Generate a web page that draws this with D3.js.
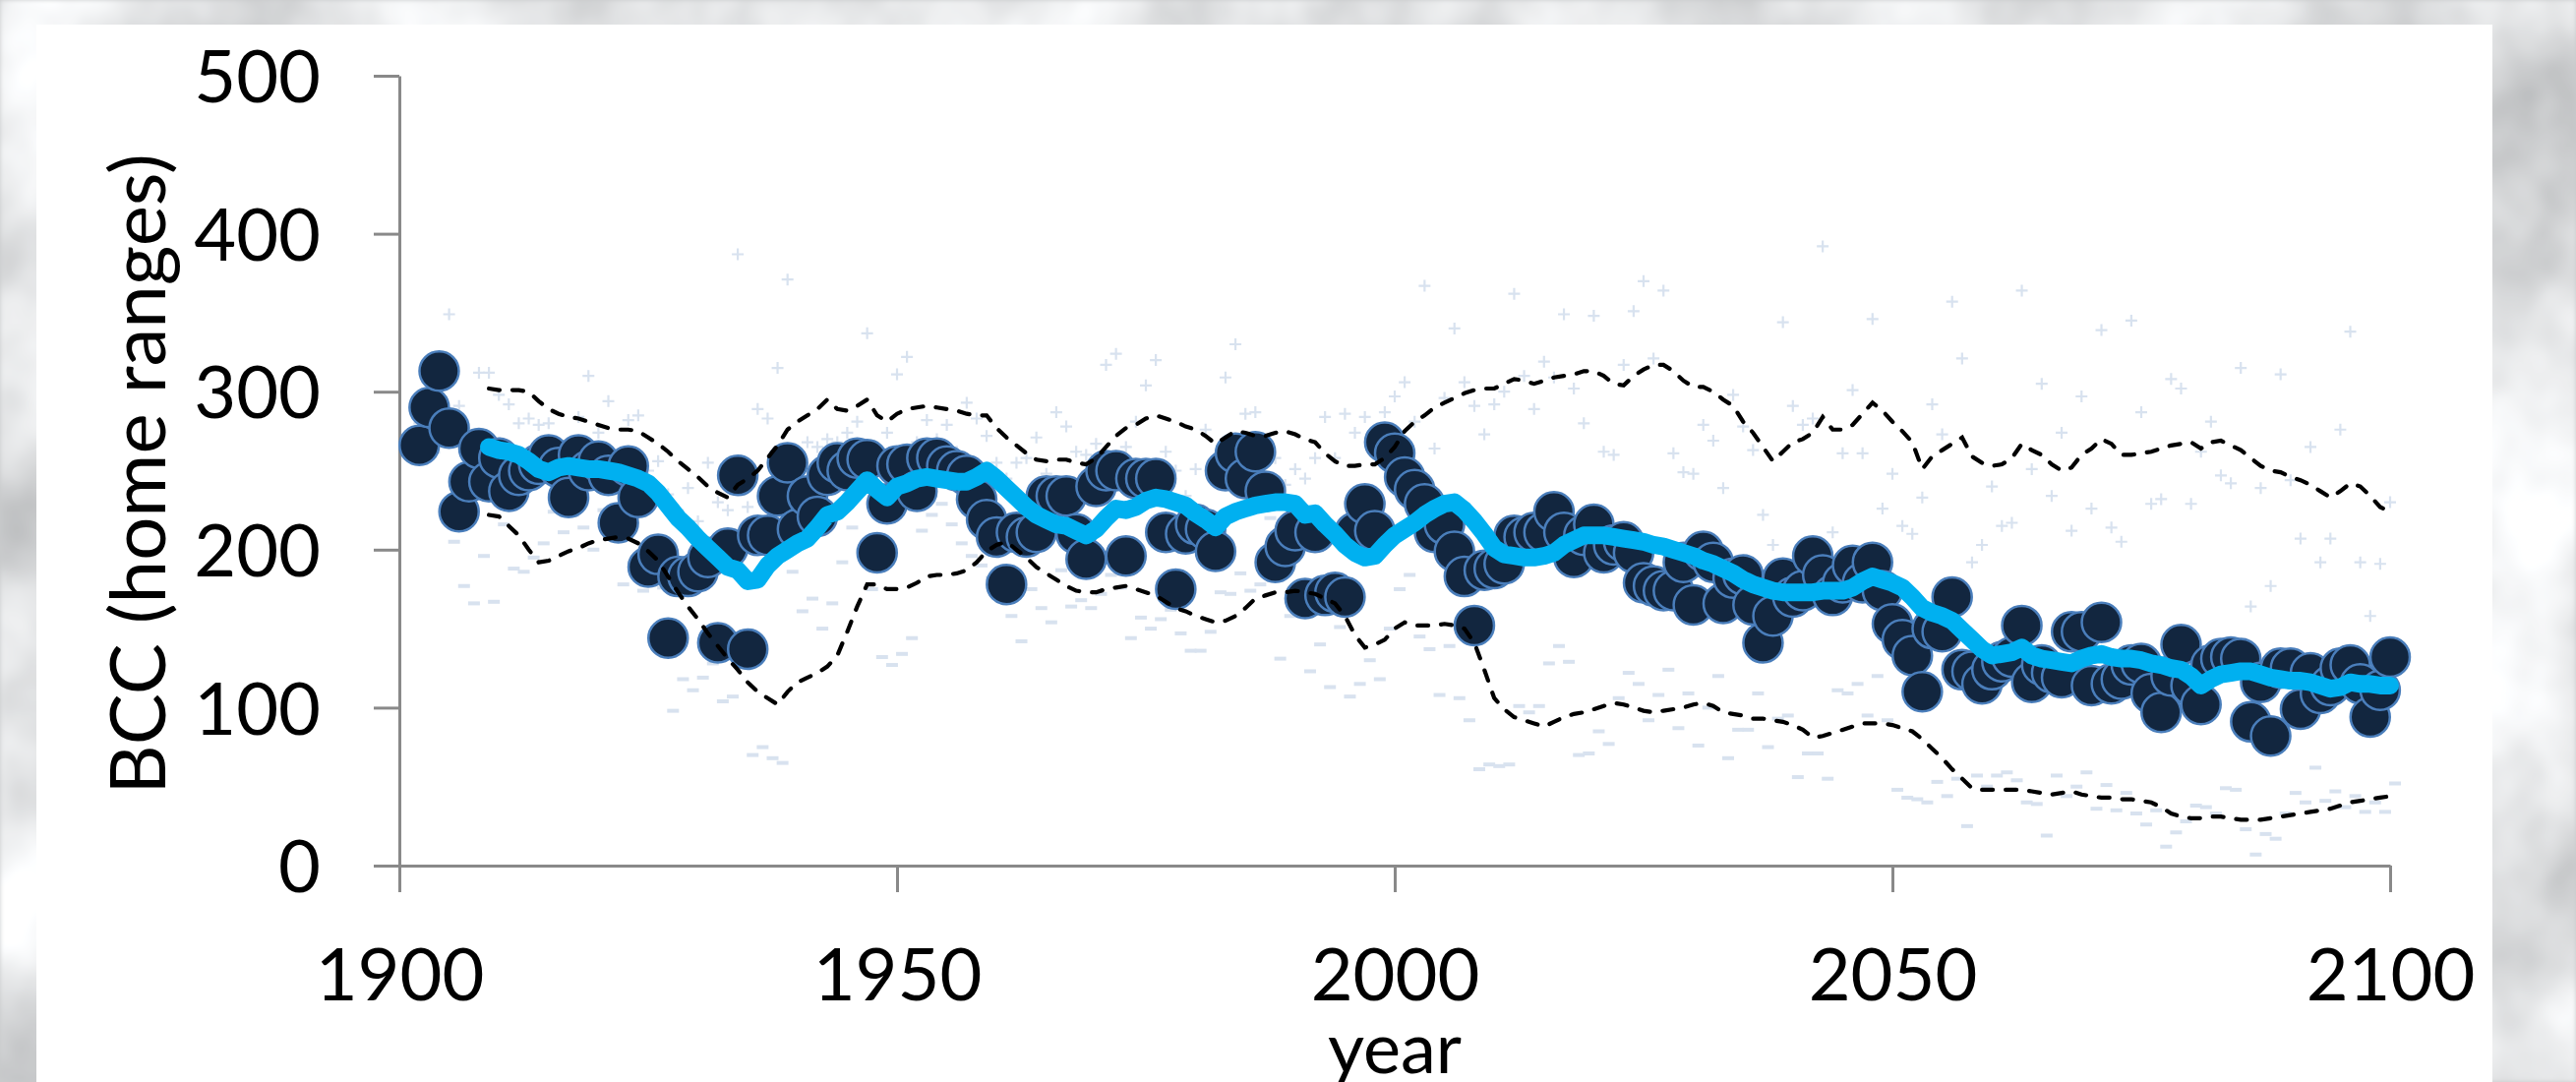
<!DOCTYPE html>
<html>
<head>
<meta charset="utf-8">
<script src="https://cdn.jsdelivr.net/npm/d3@7"></script>
<style>
  body { margin: 0; overflow: hidden; background: #c8cacb; }
  text { font-family: Lato, 'Open Sans', sans-serif; fill: #000; }
</style>
</head>
<body>
<svg width="2619" height="1100"></svg>
<script>
// Yearly values
var annualStart = 1902;
var annual = [
  266, 290, 313, 277, 224, 243, 264, 243, 258, 237,
  247, 250, 254, 260, 252, 233, 260, 250, 256, 247,
  217, 253, 233, 189, 197, 144, 183, 183, 186, 195,
  141, 201, 247, 137, 209, 209, 234, 255, 213, 234,
  221, 247, 255, 250, 258, 257, 198, 229, 253, 254,
  237, 258, 258, 253, 250, 247, 232, 219, 208, 178,
  211, 208, 211, 234, 234, 234, 210, 194, 240, 250,
  250, 196, 245, 245, 245, 211, 175, 210, 216, 213,
  199, 250, 261, 245, 262, 237, 192, 202, 212, 169,
  211, 171, 173, 170, 211, 229, 212, 268, 261, 246,
  238, 229, 211, 216, 199, 183, 152, 187, 188, 191,
  209, 208, 211, 211, 224, 211, 195, 209, 216, 198,
  203, 205, 198, 179, 177, 174, 174, 192, 165, 199,
  192, 166, 182, 184, 165, 141, 158, 182, 170, 174,
  196, 184, 171, 179, 190, 179, 192, 174, 153, 143,
  133, 110, 150, 148, 170, 124, 123, 115, 124, 129,
  132, 152, 116, 127, 122, 119, 148, 148, 114, 154,
  115, 118, 127, 128, 109, 97, 120, 140, 114, 102,
  127, 131, 132, 131, 91, 116, 82, 125, 125, 99,
  122, 109, 114, 125, 127, 115, 94, 111, 132
];

// light "+" marks (upper) and "-" marks (lower), same years as annual
var upperMarks = [
  280, 300, 320, 349, 291, 262, 312, 312, 298, 292,
  280, 283, 279, 280, 262, 258, 284, 310, 274, 294,
  255, 282, 285, 250, 256, 235, 225, 239, 218, 255,
  230, 225, 387, 227, 289, 283, 315, 371, 262, 268,
  265, 270, 268, 274, 281, 337, 265, 274, 311, 322,
  268, 282, 270, 279, 262, 293, 283, 272, 255, 245,
  255, 258, 271, 248, 287, 278, 262, 260, 267, 317,
  324, 265, 281, 304, 320, 262, 250, 234, 251, 276,
  258, 309, 330, 286, 287, 268, 258, 241, 251, 245,
  258, 284, 258, 286, 274, 284, 268, 287, 297, 306,
  281, 367, 264, 296, 340, 306, 291, 273, 292, 300,
  362, 310, 289, 319, 309, 349, 302, 280, 348, 262,
  260, 317, 351, 370, 321, 364, 261, 249, 248, 279,
  269, 239, 298, 278, 263, 222, 203, 344, 291, 279,
  283, 392, 211, 261, 301, 261, 346, 226, 248, 215,
  210, 233, 292, 273, 357, 321, 192, 203, 240, 215,
  217, 364, 251, 305, 234, 274, 212, 297, 226, 339,
  214, 205, 345, 287, 229, 232, 308, 302, 229, 262,
  281, 247, 242, 315, 164, 239, 177, 311, 244, 207,
  265, 192, 207, 276, 338, 192, 158, 191, 230
];
var lowerMarks = [
  258, 262, 268, 205, 177, 166, 196, 167, 216, 188,
  186, 195, 204, 224, 211, 222, 214, 200, 225, 215,
  178, 192, 174, 185, 176, 98, 118, 111, 119, 128,
  104, 107, 140, 70, 75, 68, 65, 186, 161, 169,
  150, 166, 192, 214, 200, 175, 132, 127, 134, 144,
  212, 222, 229, 216, 204, 196, 190, 182, 170, 158,
  142, 175, 163, 154, 187, 164, 168, 163, 172, 184,
  176, 144, 157, 150, 156, 162, 147, 136, 136, 148,
  173, 172, 185, 174, 178, 220, 131, 158, 160, 123,
  140, 113, 151, 107, 115, 130, 118, 150, 175, 184,
  145, 137, 108, 139, 106, 92, 61, 64, 63, 64,
  101, 97, 101, 128, 139, 129, 70, 71, 85, 77,
  106, 122, 115, 92, 108, 124, 87, 109, 76, 100,
  120, 68, 86, 86, 109, 75, 93, 95, 56, 71,
  71, 55, 111, 109, 115, 95, 120, 92, 48, 43,
  42, 40, 53, 44, 55, 25, 57, 50, 57, 59,
  54, 40, 39, 19, 57, 44, 50, 59, 36, 51,
  35, 46, 33, 26, 35, 12, 21, 28, 38, 37,
  33, 49, 48, 23, 7, 20, 17, 33, 46, 40,
  62, 41, 47, 37, 44, 34, 40, 34, 52
];

// Smoothed lines, 1909-2100
var smoothStart = 1909;
var runMean = [
  265, 263, 262, 260, 256, 251, 249, 252, 253, 252,
  251, 251, 250, 249, 247, 245, 242, 236, 228, 220,
  214, 207, 201, 195, 189, 187, 180, 181, 190, 196,
  200, 204, 207, 214, 222, 224, 230, 237, 244, 238,
  233, 240, 242, 245, 246, 245, 244, 243, 243, 246,
  250, 245, 239, 233, 227, 222, 219, 216, 215, 212,
  209, 213, 220, 226, 225, 227, 231, 233, 232, 230,
  228, 223, 219, 214, 221, 224, 226, 228, 229, 230,
  230, 229, 222, 223, 216, 210, 203, 198, 195, 196,
  203, 209, 213, 217, 222, 226, 229, 230, 225, 218,
  210, 201, 197, 196, 195, 195, 196, 198, 203, 206,
  209, 209, 209, 208, 207, 206, 205, 203, 202, 200,
  198, 196, 193, 191, 188, 185, 181, 178, 176, 174,
  173, 173, 173, 173, 174, 174, 174, 176, 180, 183,
  181, 179, 176, 170, 163, 160, 158, 155, 149, 143,
  137, 133, 134, 135, 138, 133, 131, 130, 129, 128,
  131, 133, 134, 132, 131, 131, 130, 128, 127, 125,
  124, 120, 114, 118, 121, 122, 123, 123, 121, 119,
  118, 117, 117, 116, 114, 112, 113, 116, 115, 115,
  114, 114
];
var upperBand = [
  302, 301, 301, 301, 300, 294, 289, 286, 284, 283,
  281, 279, 277, 276, 276, 275, 271, 267, 262, 256,
  251, 246, 240, 236, 233, 241, 245, 250, 258, 266,
  276, 281, 285, 289, 295, 289, 288, 291, 295, 285,
  281, 286, 289, 290, 291, 290, 289, 288, 286, 285,
  285, 277, 271, 266, 261, 257, 256, 257, 257, 255,
  254, 258, 265, 272, 277, 279, 283, 285, 283, 281,
  278, 276, 272, 267, 271, 275, 274, 272, 272, 274,
  275, 273, 270, 268, 261, 256, 253, 253, 254, 254,
  258, 265, 275, 281, 285, 290, 293, 296, 299, 301,
  302, 302, 305, 308, 307, 305, 307, 309, 310, 311,
  313, 313, 310, 305, 304, 310, 314, 317, 317, 313,
  307, 303, 303, 300, 295, 291, 281, 274, 265, 256,
  262, 268, 270, 274, 284, 276, 276, 279, 286, 293,
  288, 281, 275, 268, 251, 259, 263, 267, 271, 259,
  255, 253, 254, 258, 267, 263, 260, 254, 250, 252,
  260, 264, 270, 267, 260, 260, 261, 262, 264, 266,
  267, 268, 264, 268, 269, 266, 263, 258, 253, 250,
  249, 246, 244, 241, 237, 233, 237, 242, 240, 234,
  227, 224
];
var lowerBand = [
  222, 221, 215, 209, 200, 192, 193, 196, 199, 201,
  204, 206, 207, 208, 207, 204, 199, 193, 183, 173,
  164, 156, 147, 139, 131, 124, 116, 110, 106, 102,
  110, 116, 119, 122, 126, 133, 148, 164, 178, 178,
  175, 175, 176, 179, 183, 184, 184, 185, 187, 192,
  199, 203, 205, 200, 195, 189, 185, 181, 177, 174,
  173, 173, 175, 176, 177, 175, 173, 171, 167, 163,
  161, 158, 156, 154, 155, 158, 163, 169, 171, 173,
  173, 174, 173, 172, 169, 166, 158, 146, 138, 140,
  143, 150, 154, 152, 152, 152, 153, 152, 150, 141,
  124, 106, 99, 94, 92, 90, 88, 91, 94, 96,
  97, 99, 101, 103, 102, 100, 98, 97, 98, 99,
  100, 102, 103, 101, 97, 96, 95, 93, 93, 92,
  91, 89, 86, 81, 82, 84, 86, 88, 90, 90,
  90, 89, 87, 85, 80, 74, 68, 61, 55, 49,
  48, 48, 48, 48, 48, 47, 46, 45, 46, 47,
  45, 44, 43, 43, 42, 42, 41, 40, 37, 33,
  31, 30, 30, 31, 31, 30, 29, 29, 29, 30,
  31, 32, 33, 34, 35, 36, 38, 40, 41, 42,
  43, 44
];

var yTicks = [0, 100, 200, 300, 400, 500];
var xTicks = [1900, 1950, 2000, 2050, 2100];
var xTitle = 'year';
var yTitle = 'BCC (home ranges)';

var svg = d3.select('svg');
var W = 2619, H = 1100;

// snowy photo behind the chart
var defs = svg.append('defs');
var snow = defs.append('filter').attr('id', 'snow')
  .attr('x', 0).attr('y', 0).attr('width', '100%').attr('height', '100%');
snow.append('feTurbulence').attr('type', 'fractalNoise')
  .attr('baseFrequency', '0.006 0.005').attr('numOctaves', 4).attr('seed', 11);
snow.append('feColorMatrix').attr('type', 'matrix')
  .attr('values', '0.8 0 0 0 0.38  0.8 0 0 0 0.39  0.8 0 0 0 0.40  0 0 0 0 1');
snow.append('feGaussianBlur').attr('stdDeviation', 2);
svg.append('rect').attr('width', W).attr('height', H).attr('filter', 'url(#snow)');

// white plot panel
svg.append('rect').attr('x', 37).attr('y', 25).attr('width', 2497).attr('height', H - 25).attr('fill', '#fff');

var x = d3.scaleLinear().domain([1900, 2100]).range([406, 2430]);
var y = d3.scaleLinear().domain([0, 500]).range([880, 77]);

var yearsA = annual.map((d, i) => annualStart + i);
var yearsS = runMean.map((d, i) => smoothStart + i);

// axes
var yAxis = d3.axisLeft(y).tickValues(yTicks).tickSize(26).tickSizeOuter(0).tickPadding(54);
var xAxis = d3.axisBottom(x).tickValues(xTicks).tickSize(27).tickSizeOuter(0).tickPadding(57)
  .tickFormat(d3.format('d'));

var gy = svg.append('g').attr('transform', 'translate(' + x(1900) + ',0)').call(yAxis);
var gx = svg.append('g').attr('transform', 'translate(0,' + y(0) + ')').call(xAxis);
[gx, gy].forEach(g => {
  g.select('.domain').attr('stroke', '#898989').attr('stroke-width', 3);
  g.selectAll('.tick line').attr('stroke', '#898989').attr('stroke-width', 3);
  g.selectAll('.tick text').style('font-size', '74px').attr('fill', '#000');
});
gy.selectAll('.tick text').attr('dy', '0.36em');

// marker series
var plot = svg.append('g');
plot.selectAll('path.up').data(upperMarks).enter().append('path')
  .attr('class', 'up')
  .attr('d', 'M-6,0H6M0,-6V6')
  .attr('transform', (d, i) => 'translate(' + x(yearsA[i]) + ',' + y(d) + ')')
  .attr('stroke', '#d8e2ef').attr('stroke-width', 2.2).attr('fill', 'none');

plot.selectAll('rect.low').data(lowerMarks).enter().append('rect')
  .attr('class', 'low')
  .attr('x', (d, i) => x(yearsA[i] + 0.5) - 6)
  .attr('y', d => y(d) - 2)
  .attr('width', 12).attr('height', 4)
  .attr('fill', '#d8e2ef');

plot.selectAll('circle').data(annual).enter().append('circle')
  .attr('cx', (d, i) => x(yearsA[i]))
  .attr('cy', d => y(d))
  .attr('r', 20)
  .attr('fill', '#12263f')
  .attr('stroke', '#4a7ebb')
  .attr('stroke-width', 2.5);

var line = d3.line().x((d, i) => x(yearsS[i])).y(d => y(d));

plot.append('path').datum(runMean)
  .attr('d', line)
  .attr('fill', 'none')
  .attr('stroke', '#00b0f0')
  .attr('stroke-width', 18)
  .attr('stroke-linejoin', 'round')
  .attr('stroke-linecap', 'round');

[upperBand, lowerBand].forEach(band => {
  plot.append('path').datum(band)
    .attr('d', line)
    .attr('fill', 'none')
    .attr('stroke', '#000')
    .attr('stroke-width', 4.2)
    .attr('stroke-dasharray', '11,13')
    .attr('stroke-linecap', 'round');
});

// titles
svg.append('text')
  .attr('x', (x(1900) + x(2100)) / 2)
  .attr('y', 1091)
  .attr('text-anchor', 'middle')
  .style('font-size', '72px')
  .text(xTitle);

svg.append('text')
  .attr('transform', 'translate(168,482) rotate(-90)')
  .attr('text-anchor', 'middle')
  .style('font-size', '78px')
  .text(yTitle);
</script>
</body>
</html>
